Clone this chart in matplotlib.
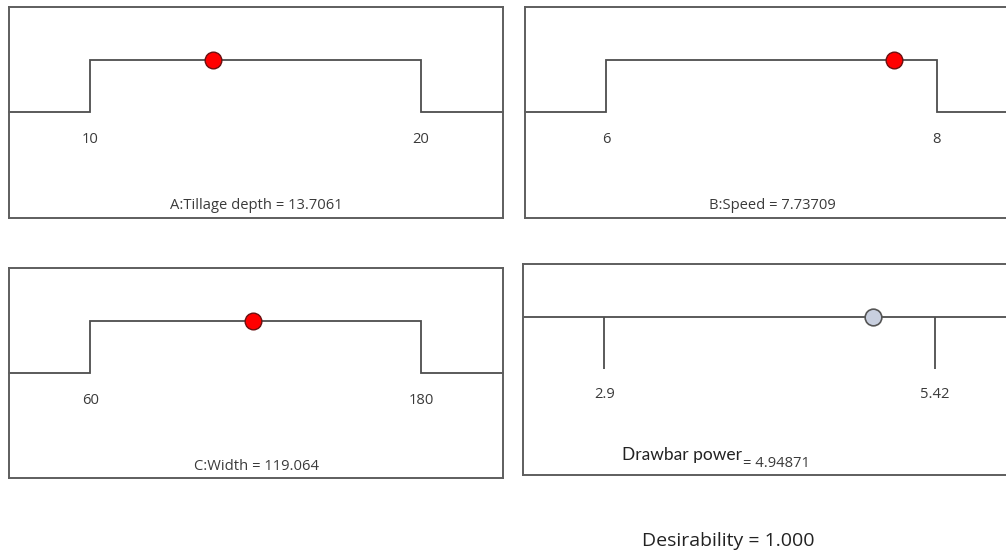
import matplotlib
matplotlib.use("Agg")
import matplotlib.pyplot as plt

factor_names = ["A:Tillage depth", "B:Speed", "C:Width"]
factor_low = [10, 6, 60]
factor_high = [20, 8, 180]
factor_opt = [13.7061, 7.73709, 119.064]

response_name = "Drawbar power"
response_low = 2.9
response_high = 5.42
response_pred = 4.94871
desirability = 1.000

LINE = "#4d4d4d"
FRAME = "#5e5e5e"
TXT = "#3a3a3a"
FS = 10.6
plt.rcParams["font.family"] = ["Open Sans", "DejaVu Sans"]

W, H = 1006, 554
fig = plt.figure(figsize=(W / 100, H / 100), dpi=100)


def make_axes(x0, y0, x1, y1):
    # pixel box (top-left origin) -> figure fraction
    ax = fig.add_axes([x0 / W, 1 - y1 / H, (x1 - x0) / W, (y1 - y0) / H])
    ax.set_xticks([])
    ax.set_yticks([])
    for sp in ax.spines.values():
        sp.set_color(FRAME)
        sp.set_linewidth(1.4)
    return ax


def set_limits(ax, lo, hi, top=2.02, bottom=-2.04):
    span = hi - lo
    ax.set_xlim(lo - 0.246 * span, hi + 0.248 * span)
    ax.set_ylim(bottom, top)


boxes = [(9, 7, 503, 218), (525, 7, 1019, 218), (9, 268, 503, 478)]
for i, box in enumerate(boxes):
    ax = make_axes(*box)
    lo, hi, opt = factor_low[i], factor_high[i], factor_opt[i]
    set_limits(ax, lo, hi, 2.02, -2.04 if i < 2 else -2.02)
    xmin, xmax = ax.get_xlim()
    ax.plot([xmin, lo, lo, hi, hi, xmax], [0, 0, 1, 1, 0, 0],
            color=LINE, lw=1.3, solid_joinstyle="miter", clip_on=False)
    ax.plot([opt], [1], "o", ms=12, mfc="#ff0000", mec="#6a1010", mew=1.0, zorder=5)
    for v in (lo, hi):
        ax.text(v, -0.52, f"{v:g}", ha="center", va="center", fontsize=FS, color=TXT)
    ax.text(0.5, 0.057, f"{factor_names[i]} = {opt:g}", transform=ax.transAxes,
            ha="center", va="center", fontsize=FS, color=TXT)

# response panel
ax = make_axes(523, 264, 1017, 475)
set_limits(ax, response_low, response_high, 2.02, -2.04)
ax.axhline(1, color=LINE, lw=1.3)
ax.vlines([response_low, response_high], 0, 1, color=LINE, lw=1.3)
ax.plot([response_pred], [1], "o", ms=12, mfc="#c8cfdf", mec="#555555", mew=1.2, zorder=5)
for v in (response_low, response_high):
    ax.text(v, -0.5, f"{v:g}", ha="center", va="center", fontsize=FS, color=TXT)
ax.text(0.445, -1.81, f"= {response_pred:g}", ha="left", va="center",
        fontsize=FS, color=TXT, transform=ax.get_yaxis_transform())
ax.text(0.443, -1.65, response_name, ha="right", va="center",
        fontsize=12.5, color="#222222", family=["Lato", "DejaVu Sans"],
        transform=ax.get_yaxis_transform())

fig.text(728 / W, 1 - 541 / H, f"Desirability = {desirability:.3f}",
         ha="center", va="center", fontsize=14, color="#222222")

fig.savefig("out.png", dpi=100, facecolor="white")
